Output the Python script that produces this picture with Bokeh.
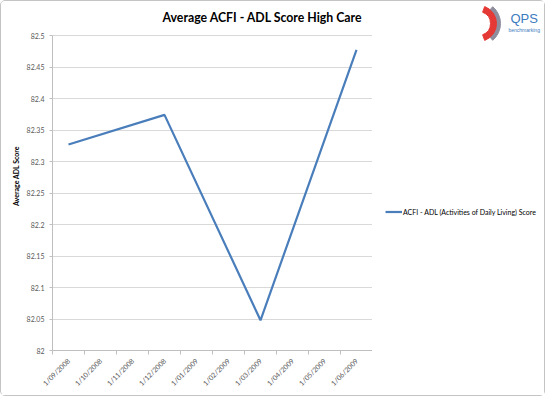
from bokeh.plotting import figure
from bokeh.layouts import row
from bokeh.models import (FixedTicker, NumeralTickFormatter, Range1d, Label,
                          Legend, LegendItem)
from bokeh.embed import file_html
from bokeh.resources import INLINE

# ---- data ----
categories = ["1/09/2008", "1/10/2008", "1/11/2008", "1/12/2008", "1/01/2009",
              "1/02/2009", "1/03/2009", "1/04/2009", "1/05/2009", "1/06/2009"]
obs_dates = ["1/09/2008", "1/12/2008", "1/03/2009", "1/06/2009"]
scores = [82.327, 82.374, 82.048, 82.477]
y_ticks = [82.0, 82.05, 82.1, 82.15, 82.2, 82.25, 82.3, 82.35, 82.4, 82.45, 82.5]
series_name = "ACFI - ADL (Activities of Daily Living) Score"
title_text = "Average ACFI - ADL Score High Care"
y_label = "Average ADL Score"

x_idx = [categories.index(d) for d in obs_dates]

FONT = "Lato"
GRAY_TXT = "#595959"
BLUE = "#4A7EBB"
H = 394
BOTTOM = 45
TOP_PAD_PX = 34          # blank space above the 82.5 gridline (title/logo area)
PLOT_PX = 315            # pixel height of the 82..82.5 span
W1 = 371
W2 = 543 - W1

y_span = y_ticks[-1] - y_ticks[0]
p = figure(width=W1, height=H, output_backend="svg", toolbar_location=None, title=None,
           x_range=Range1d(-0.5, len(categories) - 0.5),
           y_range=Range1d(y_ticks[0], y_ticks[-1] + y_span * TOP_PAD_PX / PLOT_PX),
           min_border_left=51, min_border_right=0, min_border_top=0,
           min_border_bottom=BOTTOM)
p.outline_line_color = None
p.background_fill_color = "white"
p.border_fill_color = "white"

line = p.line(x_idx, scores, line_color=BLUE, line_width=2.2)

# title (inside the frame's blank top band)
p.add_layout(Label(x=110, y=H - BOTTOM - 16, x_units="screen", y_units="screen",
                   text=title_text, text_baseline="middle", text_font=FONT,
                   text_font_size="12.3px", text_font_style="bold", text_color="#000000"))

# x axis: ticks between categories, labels at category centres
p.xaxis.ticker = FixedTicker(ticks=list(range(len(categories))),
                             minor_ticks=[i - 0.5 for i in range(len(categories) + 1)])
p.xaxis.major_label_overrides = {i: c for i, c in enumerate(categories)}
p.xaxis.major_label_orientation = 0.785398
p.xaxis.major_tick_out = 0
p.xaxis.major_tick_in = 0
p.xaxis.minor_tick_out = 4
p.xaxis.minor_tick_in = 0
p.xaxis.minor_tick_line_color = "#BFBFBF"
p.xaxis.axis_line_color = "#BFBFBF"
p.xaxis.major_label_text_font = FONT
p.xaxis.major_label_text_font_size = "7px"
p.xaxis.major_label_text_color = GRAY_TXT
p.xaxis.major_label_standoff = 5
p.xaxis.axis_label_standoff = 0

# y axis
p.yaxis.ticker = FixedTicker(ticks=y_ticks, minor_ticks=[])
p.yaxis.bounds = (y_ticks[0], y_ticks[-1])
p.yaxis.formatter = NumeralTickFormatter(format="0.[00]")
p.yaxis.major_tick_out = 3
p.yaxis.major_tick_in = 0
p.yaxis.major_tick_line_color = "#BFBFBF"
p.yaxis.axis_line_color = "#BFBFBF"
p.yaxis.major_label_text_font = FONT
p.yaxis.major_label_text_font_size = "7px"
p.yaxis.major_label_text_color = GRAY_TXT
p.yaxis.major_label_standoff = 5
p.yaxis.axis_label = y_label
p.yaxis.axis_label_text_font = FONT
p.yaxis.axis_label_text_font_size = "7px"
p.yaxis.axis_label_text_font_style = "bold"
p.yaxis.axis_label_text_color = "#000000"
p.yaxis.axis_label_standoff = 4

p.xgrid.grid_line_color = None
p.ygrid.grid_line_color = "#D9D9D9"
p.ygrid.grid_line_width = 1

# ---- right panel: legend + logo (pixel-like ranges) ----
p2 = figure(width=W2, height=H, output_backend="svg", toolbar_location=None, title=None,
            x_range=Range1d(0, W2), y_range=Range1d(0, H - BOTTOM),
            min_border=0, min_border_left=0, min_border_right=0,
            min_border_top=0, min_border_bottom=BOTTOM)
p2.axis.visible = False
p2.grid.grid_line_color = None
p2.outline_line_color = None
p2.background_fill_color = "white"
p2.border_fill_color = "white"

legend_line = p2.line([float("nan")], [float("nan")], line_color=BLUE, line_width=2.2)
legend = Legend(items=[LegendItem(label=series_name, renderers=[legend_line])],
                location=(13, 134), label_text_font=FONT, label_text_font_size="7px",
                label_text_color="#000000", glyph_width=17, glyph_height=9,
                label_standoff=1, padding=0, margin=0, spacing=0,
                border_line_color=None, background_fill_alpha=0)
p2.add_layout(legend, "center")

# logo
p2.annular_wedge(x=[106], y=[327], inner_radius=17, outer_radius=22,
                 inner_radius_units="screen", outer_radius_units="screen",
                 start_angle=-0.87, end_angle=0.87, color="#8E8E9E")
p2.annular_wedge(x=[106], y=[327], inner_radius=12, outer_radius=18,
                 inner_radius_units="screen", outer_radius_units="screen",
                 start_angle=-1.22, end_angle=1.22, color="#E53935")
p2.add_layout(Label(x=138, y=325, text="QPS", text_font="Liberation Sans",
                    text_font_size="13px", text_color="#3B7BC0"))
p2.add_layout(Label(x=136, y=318, text="benchmarking", text_font="Liberation Sans",
                    text_font_size="5px", text_color="#3B7BC0"))

layout = row(p, p2, spacing=0,
             styles={"border": "1px solid #C4C4C4", "border-radius": "5px"})
open("out.html", "w").write(file_html(layout, INLINE))
